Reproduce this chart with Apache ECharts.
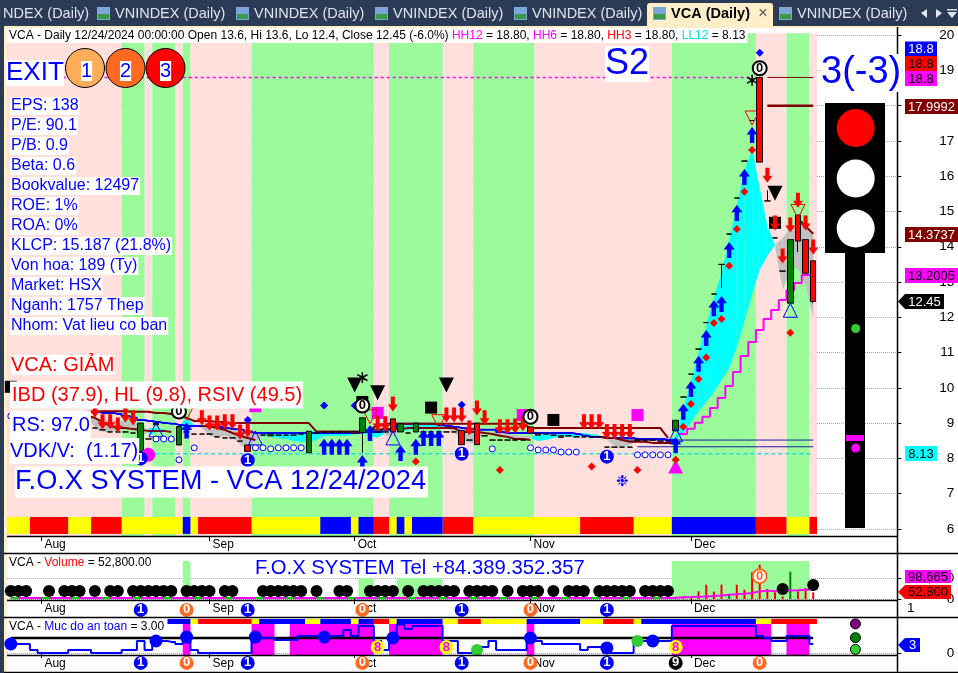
<!DOCTYPE html>
<html>
<head>
<meta charset="utf-8">
<title>VCA Daily</title>
<script src="https://cdn.jsdelivr.net/npm/echarts@6/dist/echarts.min.js"></script>
<style>html,body{margin:0;padding:0;background:#fff}#c{width:958px;height:673px}</style>
</head>
<body>
<div id="c"></div>
<script>
// ---------- categories ----------
const datesJul = ['07-26','07-29','07-30','07-31'];
const datesAug = ['08-01','08-02','08-05','08-06','08-07','08-08','08-09','08-12','08-13','08-14','08-15','08-16','08-19','08-20','08-21','08-22','08-23','08-26','08-27','08-28','08-29','08-30'];
const datesSep = ['09-04','09-05','09-06','09-09','09-10','09-11','09-12','09-13','09-16','09-17','09-18','09-19','09-20','09-23','09-24','09-25','09-26','09-27','09-30'];
const datesOct = ['10-01','10-02','10-03','10-04','10-07','10-08','10-09','10-10','10-11','10-14','10-15','10-16','10-17','10-18','10-21','10-22','10-23','10-24','10-25','10-28','10-29','10-30','10-31'];
const datesNov = ['11-01','11-04','11-05','11-06','11-07','11-08','11-11','11-12','11-13','11-14','11-15','11-18','11-19','11-20','11-21','11-22','11-25','11-26','11-27','11-28','11-29'];
const datesDec = ['12-02','12-03','12-04','12-05','12-06','12-09','12-10','12-11','12-12','12-13','12-16','12-17','12-18','12-19','12-20','12-23','12-24'];
const blankSlots = ['a','b','c','d','e','f','g','h','i','j','k'];
const monthStartDays = ['08-01','09-04','10-01','11-01','12-02'];
const monthNames = {'08':'Aug','09':'Sep','10':'Oct','11':'Nov','12':'Dec'};
const priceTicks = [6,7,8,9,10,11,12,13,14,15,16,17,18,19,20];

// ---------- candles ----------
const opens = [9.97,8.95,8.95,8.95,8.95,8.95,8.95,8.95,8.95,8.95,8.72,8.86,8.81,8.75,8.75,8.75,8.72,8.2,8.55,9.0,8.55,8.52,8.38,8.75,8.69,8.69,8.69,8.61,8.58,8.58,8.49,8.38,8.32,8.66,8.64,8.66,8.66,8.66,8.69,8.16,8.72,8.75,8.75,8.75,8.75,8.76,8.73,8.75,8.75,8.75,9.12,8.75,8.72,8.75,8.75,8.75,8.75,8.75,8.75,8.79,8.52,9.0,8.64,8.52,8.52,8.52,8.52,8.52,8.89,8.70,8.69,8.66,8.64,8.64,8.61,8.61,8.61,8.61,8.32,8.32,8.32,8.32,8.52,8.52,8.52,8.49,8.49,8.78,9.74,10.39,11.1,11.85,12.66,13.5,14.36,15.38,16.43,17.58,18.8,15.3,14.25,13.31,12.4,14.9,14.2,13.6];
const closes = [9.97,8.95,8.95,8.95,8.95,8.95,8.95,8.95,8.95,8.95,9.15,8.86,8.81,8.75,8.75,8.75,8.72,9.0,8.55,8.95,8.55,8.52,8.9,8.75,8.69,8.69,8.69,8.61,8.58,8.58,8.49,8.2,8.32,8.66,8.69,8.66,8.66,8.66,8.69,8.77,8.72,8.75,8.75,8.75,8.75,8.72,9.15,8.75,8.75,8.75,8.75,8.98,8.72,9.0,8.75,8.75,8.75,8.75,8.75,8.39,8.52,8.39,8.64,8.52,8.52,8.52,8.52,8.52,8.72,8.66,8.69,8.66,8.60,8.64,8.61,8.61,8.61,8.61,8.32,8.32,8.32,8.32,8.52,8.52,8.52,8.49,8.49,9.08,9.74,10.39,11.1,11.85,12.66,13.5,14.36,15.38,16.43,17.58,16.4,15.3,14.25,13.31,14.2,14.16,13.25,12.45];
const lowWicks = {46:8.16, 93:12.83, 103:13.85, 105:12.4};
const highWicks = {99:15.6};

// ---------- indicator lines (null where not drawn) ----------
const fastLine = [null,null,null,null,null,null,null,null,null,null,9.23,8.86,8.75,8.75,8.78,8.81,8.83,8.58,8.86,8.86,8.81,8.81,8.86,9.15,8.95,8.86,8.64,8.58,8.64,8.58,8.41,8.21,8.47,8.69,8.72,8.72,8.72,8.72,8.75,8.78,8.78,8.75,8.75,8.75,8.75,8.75,8.78,8.86,8.86,8.64,8.64,8.86,8.95,8.98,8.98,8.98,8.98,8.95,8.75,8.52,8.44,8.44,8.78,8.78,8.66,8.58,8.55,8.52,8.52,8.72,8.75,8.75,8.75,8.75,8.72,8.72,8.69,8.66,8.52,8.35,8.32,8.38,8.49,8.52,8.52,8.52,8.55,8.61,9.43,10.17,11.02,11.75,12.55,13.28,14.19,15.18,16.17,16.74,15.69,14.59,14.05,12.77,13.34,13.40,12.91,11.98];
const slowLine = [null,null,null,null,null,null,null,null,null,null,9.20,9.15,9.09,9.09,9.06,9.06,9.0,8.98,8.64,8.75,8.78,8.81,8.92,8.75,8.92,8.92,8.86,8.86,8.83,8.81,8.78,8.75,8.72,8.66,8.61,8.58,8.55,8.49,8.47,8.47,8.52,8.64,8.64,8.64,8.64,8.69,8.72,8.64,8.58,8.81,8.81,8.75,8.81,8.81,8.83,8.83,8.83,8.86,8.86,8.86,8.89,8.89,8.81,8.75,8.75,8.69,8.66,8.64,8.64,8.49,8.52,8.58,8.61,8.61,8.61,8.64,8.64,8.64,8.61,8.61,8.58,8.58,8.55,8.52,8.52,8.52,8.52,8.52,8.72,9.03,9.34,9.60,9.88,10.22,10.56,11.16,11.89,12.66,13.34,13.74,14.05,14.25,14.53,14.62,14.53,14.37];
const blueLine = [null,null,null,null,null,null,null,null,null,null,9.32,9.32,9.29,9.29,9.26,9.20,9.15,9.09,9.06,9.03,9.0,8.98,8.95,8.92,8.92,8.92,8.89,8.89,8.86,8.83,8.81,8.75,8.72,8.72,8.72,8.72,8.72,8.72,8.72,8.72,8.72,8.72,8.72,8.72,8.72,8.72,8.75,8.75,8.75,8.81,8.86,8.98,8.98,8.98,8.98,8.98,8.95,8.92,8.89,8.86,8.83,8.81,8.81,8.81,8.75,8.72,8.72,8.72,8.72,8.72,8.72,8.72,8.72,8.72,8.69,8.64,8.61,8.61,8.58,8.58,8.58,8.58,8.55,8.55,8.55,8.55,8.52,8.52];
const maroonUpper = [null,null,null,null,null,null,null,null,null,null,9.32,9.32,9.34,9.34,9.34,9.34,9.32,9.32,9.32,9.29,9.29,9.26,9.20,9.15,9.06,9.06,9.06,9.03,9.03,9.0,9.0,9.0,9.0,9.0,9.0,9.0,9.0,9.0,9.0,9.0,8.76,8.76,8.76,8.76,8.76,8.76,8.76,8.81,8.95,8.98,8.98,8.98,8.98,8.98,8.98,8.98,8.98,8.98,8.98,8.98,8.98,8.98,8.98,8.98,8.98,8.98,8.98,8.98,8.86,8.86,8.86,8.86,8.86,8.86,8.86,8.86,8.86,8.86,8.86,8.86,8.86,8.86,8.86,8.86,8.86,8.86,8.58];
const maroonLower = [null,null,null,null,null,null,null,null,null,null,9.20,9.15,9.03,8.92,8.86,8.86,8.83,8.81,8.78,8.78,8.78,8.75,null,null,null,8.92,8.92,8.86,8.81,8.72,8.64,8.58,8.52,null,null,null,null,null,null,null,null,null,null,null,null,null,null,8.81,8.81,8.83,8.83,8.83,8.86,8.86,8.86,8.86,8.86,8.86,8.86,8.75,8.75,8.75,8.72,8.69,8.64,8.61,8.55,8.55,8.52,null,null,null,null,null,null,null,null,8.61,8.58,8.58,8.52,8.47,8.47,8.47,8.44,8.44,8.44,8.44,null,null,null,null,null,null,null,null,null,null,null,null,null,null,null,14.8,14.58,14.37];
const maroonHigh12 = [18.8,18.8,18.8,18.8,18.8,18.8,18.8];
const maroonHigh6 = [17.9992,17.9992,17.9992,17.9992,17.9992,17.9992,17.9992];
const magentaStair = [8.69,8.84,9.01,9.18,9.43,9.71,10.05,10.45,10.90,11.30,11.64,11.95,12.21,12.49,12.77,12.97,13.2,13.2];
const navyLevelA = 8.52, navyLevelB = 8.33, ll12 = 8.13, hh12 = 18.8;

// ---------- signals: [bar, price] ----------
const blueUpArrows = [[23,8.79],[41,8.33],[42,8.33],[43,8.33],[44,8.33],[46,7.87],[47,8.72],[51,8.15],[53,8.33],[54,8.58],[55,8.58],[56,8.58],[87,8.38],[88,9.32],[89,9.97],[90,10.68],[91,11.41],[92,12.26],[93,12.38],[94,13.91],[95,14.96],[96,15.98],[97,17.17]];
const redDownArrows = [[11,9.37],[12,9.04],[13,9.04],[14,8.95],[15,9.23],[16,9.15],[25,9.15],[26,9.0],[27,9.0],[28,9.04],[29,9.04],[30,8.75],[31,8.81],[48,9.0],[49,8.98],[50,9.54],[57,9.23],[58,9.23],[59,9.23],[60,8.86],[61,9.43],[62,9.15],[64,8.9],[65,8.9],[66,8.92],[67,8.98],[75,9.04],[76,9.04],[77,9.04],[78,8.76],[79,8.76],[80,8.76],[81,8.76],[99,16.03],[100,14.67],[101,13.74],[102,14.62],[103,15.32],[104,14.67],[105,13.99]];
const redDiamonds = [[53,7.91],[64,7.67],[76,7.77],[82,7.67],[87,7.96],[88,8.9],[89,9.54],[90,10.25],[91,10.86],[92,11.84],[93,11.95],[94,13.46],[95,14.5],[96,15.56],[97,16.74],[102,11.56]];
const blueDiamonds = [[31,9.09],[41,9.5],[45,9.5],[59,9.52],[98,19.5]];
const openCircles = [[0,9.2],[19,8.55],[20,8.55],[21,8.55],[22,7.96],[24,8.3],[32,8.3],[33,8.3],[34,8.27],[35,8.3],[36,8.3],[37,8.3],[38,8.3],[63,8.27],[68,8.3],[69,8.24],[70,8.24],[71,8.24],[72,8.18],[73,8.18],[74,8.18],[82,8.1],[83,8.1],[84,8.1],[85,8.1],[86,8.1]];
const blackDownTriangles = [[22,9.32],[45,10.08],[48,9.86],[57,10.08],[100,15.52]];
const blackSquares = [[0,10.03],[22,9.33],[46,9.6],[55,9.44],[71,9.09],[100,14.68]];
const magentaSquares = [[48,9.29],[67,9.23],[82,9.23]];
const magentaBars = [[32,9.38]];
const asterisks = [[46,10.29],[97,18.72]];
const blueUpOutlines = [[19,8.81],[32,8.58],[50,8.58],[87,8.67],[102,12.2]];
const redDownOutlines = [[23,9.29],[47,9.18],[56,9.04],[97,17.65],[103,15.0]];
const magentaUpTriangles = [[87,7.77]];
const magentaDots = [[18,8.1]];
const snowflakes = [[80,7.33]];
const blackRingZero = [[22,9.33],[46,9.5],[68,9.18],[98,19.06]];
const mainBlueOnes = [[17,8.0],[31,7.95],[59,8.13],[78,8.05]];

// ---------- colour strips and shading: [from bar, to bar] ----------
const greenRuns = [[15,18],[19,22],[23,24],[32,48],[50,57],[61,69],[87,98],[102,105]];
const pinkRuns = [[0,15],[18,19],[22,23],[24,32],[48,50],[57,61],[69,87],[98,102],[105,106]];
const stripRed = [[3,8],[11,15],[25,32],[48,50],[57,61],[75,82],[98,102],[105,106]];
const stripYellow = [[0,3],[8,11],[15,23],[24,25],[32,41],[45,46],[50,51],[52,53],[61,75],[82,87],[102,105]];
const stripBlue = [[23,24],[41,45],[46,48],[51,52],[53,57],[87,98]];
const safeRed = [[25,32],[48,50],[59,62],[78,82],[100,106]];
const safeYellow = [[24,25],[32,33],[39,41],[45,46],[50,51],[57,59],[62,68],[75,78],[82,83],[98,100]];
const safeBlue = [[21,24],[33,39],[41,45],[46,48],[51,57],[68,75],[83,98]];
const safeMagenta = [[23,24],[32,35],[37,48],[50,57],[68,69],[87,100],[102,105]];

// ---------- volume ----------
const volumes = [5000,6000,4000,7000,5000,9000,6000,5000,8000,6000,7000,9000,5000,6000,8000,7000,6000,9000,12000,7000,6000,5000,11000,16000,9000,7000,6000,8000,5000,7000,6000,9000,11000,8000,5000,9000,7000,6000,8000,11000,9000,7000,6000,8000,5000,9000,16000,12000,8000,11000,9000,7000,6000,8000,6000,9000,7000,5000,6000,8000,7000,5000,9000,6000,5000,7000,6000,8000,9000,5000,6000,7000,5000,6000,8000,6000,5000,7000,9000,6000,5000,7000,6000,5000,8000,7000,6000,11000,13000,15000,61000,113000,58000,113000,34000,113000,73000,210000,270000,79000,53000,21000,215000,61000,87000,52800];
const volumeUpBars = [10,17,22,39,46,51,53,87,94,102];
const volumeMA = [8000,8000,8000,8000,8000,8000,8000,8000,8000,8000,8000,8000,8000,8000,8000,8000,8000,8000,8000,8000,8000,8000,8000,8000,8000,8000,8000,8000,8000,8000,8000,8000,8000,8000,8000,8000,8000,8000,8000,8000,8000,8000,8000,8000,8000,8000,8000,8000,8000,8000,8000,8000,8000,8000,8000,8000,8000,8000,8000,8000,8000,8000,8000,8000,8000,8000,8000,8000,8000,8000,8000,8000,8000,8000,8000,8000,8000,8000,8000,8000,8000,8000,8000,8000,8000,8000,8000,9000,13000,15000,18000,20000,24000,28000,34000,38000,42000,47000,60000,66000,62000,63000,66000,68000,72000,74000];
const volumeGreenShade = [[23,24,300000],[46,48,165000],[51,57,165000],[87,105,300000]];
const volumeDotBars = [0,1,2,5,7,8,9,11,13,14,16,17,18,19,20,21,23,24,25,26,28,29,33,34,35,36,37,38,40,43,44,47,48,49,50,52,54,55,56,57,58,60,61,62,63,65,67,68,69,71,73,74,75,77,78,79,80,81,83,84,85,86];
const volumeDotLevel = 63000;
const volumeLateDots = [[101,79000],[105,110000]];
const volumeTicks = [0,165000];
const volumeOrangeZero = [[98,180000]];
const stripBlueOneBars = [17,31,59,78];
const stripOrangeZeroVol = [23,46,68];
const stripOrangeZeroSafe = [23,46,68,98];
const stripBlackNineSafe = [87];

// ---------- "Muc do an toan" ----------
const safetySteps = [3,3,3,1,0,0,0,0,1,1,1,0,0,0,0,1,1,4,1,4,4,3.7,3,4,1,0,0,0,0,0,0,0,5,5,5,4.3,4.3,4.3,5.7,5.7,5.7,5.7,5.7,5.7,7.7,5.7,9,9,4,1,5,9.5,8,9,9,9,9,4,4,0,0,0,2,4,1,1,1,1,5,4,3,3,3,3,3,1,2,2,0,0,0,0,4,4,4,4,4,9,9,9,9,9,9,9,9,9,9,9,5.7,5,4,4,5.7,5.7,5.7,3];
const safetyRefLevel = 5;
const safetyBlueDots = [[0,3],[19,4],[23,5.3],[32,5.3],[41,5.3],[50,5],[68,5],[78,1.7],[84,4]];
const safetyGreenDots = [[61,1],[82,4]];
const safetyYellowEights = [[48,2],[57,2],[87,2]];
const legendPurple = [[110,9.7]], legendDarkGreen = [[110,5.1]], legendLime = [[110,1.2]];

// ---------- scale helpers ----------
const categories = [].concat(datesJul,datesAug,datesSep,datesOct,datesNov,datesDec,blankSlots);
const tickIdx = monthStartDays.map(d => categories.indexOf(d));
const FONT = '"Liberation Sans", Arial, sans-serif';
const GREEN = '#9BFB9B', PINK = '#FFE0DD';

const xAx = (gridIndex) => ({
  type:'category', gridIndex, data:categories, boundaryGap:true,
  axisLine:{show:false},
  axisTick:{show:true, alignWithLabel:true, length:5, inside:false, interval:(i)=>tickIdx.includes(i), lineStyle:{color:'#000'}},
  axisLabel:{show:true, align:'left', margin:3, padding:[0,0,0,3], fontSize:12, fontFamily:FONT, color:'#000', interval:(i)=>tickIdx.includes(i),
    formatter:(v)=>monthNames[v.slice(0,2)]||''},
  splitLine:{show:false}
});
const yAx = (gridIndex,min,max,custom,extra) => Object.assign({
  type:'value', gridIndex, position:'right', offset:-3.8, min, max, scale:true,
  axisLine:{show:false},
  axisTick:{show:true, length:4, customValues:custom, lineStyle:{color:'#000'}},
  axisLabel:{show:true, customValues:custom, align:'right', margin:57, fontSize:13.5, fontFamily:FONT, color:'#000'},
  splitLine:{show:true, lineStyle:{color:'#aaa', type:'dotted', width:1}}
},extra||{});

// run-length band: [from, to, lo, hi]
function bands(runs,lo,hi,color,xi,yi,z,name){
  return {type:'custom', name, xAxisIndex:xi, yAxisIndex:yi, z:z||1, silent:true, clip:true,
    data:runs.map(r=>[r[0],r[1],lo,r.length>2?r[2]:hi]),
    encode:{x:0,y:2},
    renderItem:(p,api)=>{
      const bw=api.size([1,0])[0];
      const a=api.coord([api.value(0),api.value(2)]), b=api.coord([api.value(1),api.value(3)]);
      return {type:'rect', shape:{x:a[0]-bw/2,y:b[1],width:b[0]-a[0],height:a[1]-b[1]}, style:{fill:color}};
    }};
}
function marks(name,data,o){
  return Object.assign({type:'scatter',name,data,xAxisIndex:0,yAxisIndex:0,symbolSize:8,z:6,silent:true,clip:false},o||{});
}
function numbered(name,data,fill,txt,digit,xi,yi,o){
  return Object.assign({type:'scatter',name,data,xAxisIndex:xi,yAxisIndex:yi,symbol:'circle',symbolSize:14,z:8,silent:true,clip:false,
    itemStyle:{color:fill},
    label:{show:true,position:'inside',formatter:digit,color:txt,fontFamily:FONT,fontWeight:'bold',fontSize:13}},o||{});
}
const ARROW_UP='path://M5,0 L10,7 L7,7 L7,15 L3,15 L3,7 L0,7 Z';
const ARROW_DOWN='path://M3,0 L7,0 L7,8 L10,8 L5,15 L0,8 L3,8 Z';
const ASTERISK='path://M4.4,0 H5.6 V3.6 L8.8,1.8 L9.4,2.8 L6.2,5 L9.4,7.2 L8.8,8.2 L5.6,6.4 V10 H4.4 V6.4 L1.2,8.2 L0.6,7.2 L3.8,5 L0.6,2.8 L1.2,1.8 L4.4,3.6 Z';

const series = [
  bands(pinkRuns,5,20.05,PINK,0,0,1,'pink'),
  bands(greenRuns,5,20.05,GREEN,0,0,1,'green'),
  {type:'custom',name:'cloud',xAxisIndex:0,yAxisIndex:0,z:2,silent:true,
    data:fastLine.map((f,i)=>[i,f,slowLine[i],fastLine[i+1],slowLine[i+1]]).filter(d=>d[1]!=null&&d[3]!=null),
    encode:{x:0,y:1},
    renderItem:(p,api)=>{
      const i=api.value(0),f0=api.value(1),s0=api.value(2),f1=api.value(3),s1=api.value(4);
      const c=(x,y)=>api.coord([x,y]);
      const d0=f0-s0,d1=f1-s1, cyan='#00FFFF', grey='#C0C0C0';
      if(d0*d1<0){
        const t=d0/(d0-d1), xm=i+t, ym=f0+(f1-f0)*t;
        return {type:'group',children:[
          {type:'polygon',shape:{points:[c(i,f0),c(xm,ym),c(i,s0)]},style:{fill:d0>0?cyan:grey}},
          {type:'polygon',shape:{points:[c(xm,ym),c(i+1,f1),c(i+1,s1)]},style:{fill:d1>0?cyan:grey}}]};
      }
      return {type:'polygon',shape:{points:[c(i,f0),c(i+1,f1),c(i+1,s1),c(i,s0)]},style:{fill:(d0+d1)>0?cyan:grey}};
    }},
  {type:'line',name:'HH12',xAxisIndex:0,yAxisIndex:0,data:categories.slice(0,106).map((c,i)=>(i>=6&&i<=97)?hh12:null),symbol:'none',z:3,silent:true,
    lineStyle:{color:'#FF00FF',width:1.5,type:[3,3]}},
  {type:'line',name:'LL12',xAxisIndex:0,yAxisIndex:0,data:categories.slice(0,106).map((c,i)=>i>=18?ll12:null),symbol:'none',z:3,silent:true,
    lineStyle:{color:'#22DDDD',width:1.5,type:[4,3]}},
  {type:'line',name:'navyA',xAxisIndex:0,yAxisIndex:0,data:categories.slice(0,106).map((c,i)=>i>=80?navyLevelA:null),symbol:'none',z:3,silent:true,lineStyle:{color:'#1a1a9c',width:1}},
  {type:'line',name:'navyB',xAxisIndex:0,yAxisIndex:0,data:categories.slice(0,106).map((c,i)=>i>=82?navyLevelB:null),symbol:'none',z:3,silent:true,lineStyle:{color:'#1a1a9c',width:1}},
  {type:'line',name:'blue',xAxisIndex:0,yAxisIndex:0,data:blueLine,symbol:'none',z:3,silent:true,step:'middle',lineStyle:{color:'#0000FF',width:2}},
  {type:'line',name:'maroonU',xAxisIndex:0,yAxisIndex:0,data:maroonUpper,symbol:'none',z:3,silent:true,lineStyle:{color:'#800000',width:2}},
  {type:'line',name:'maroonL',xAxisIndex:0,yAxisIndex:0,data:maroonLower,symbol:'none',z:3,silent:true,lineStyle:{color:'#800000',width:2}},
  {type:'line',name:'maroonH12',xAxisIndex:0,yAxisIndex:0,data:new Array(99).fill(null).concat(maroonHigh12),symbol:'none',z:3,silent:true,lineStyle:{color:'#800000',width:1}},
  {type:'line',name:'maroonH6',xAxisIndex:0,yAxisIndex:0,data:new Array(99).fill(null).concat(maroonHigh6),symbol:'none',z:3,silent:true,lineStyle:{color:'#800000',width:2.5}},
  {type:'line',name:'stair',xAxisIndex:0,yAxisIndex:0,data:new Array(88).fill(null).concat(magentaStair),symbol:'none',z:3,silent:true,step:'middle',lineStyle:{color:'#FF00FF',width:2}},
  {type:'candlestick',name:'VCA',xAxisIndex:0,yAxisIndex:0,barWidth:6,z:5,silent:true,
    data:opens.map((o,i)=>{
      const c=closes[i];
      const lo=lowWicks[i]!==undefined?lowWicks[i]:Math.min(o,c);
      const hi=highWicks[i]!==undefined?highWicks[i]:Math.max(o,c);
      return [o,c,lo,hi];
    }),
    itemStyle:{color:'#008000',color0:'#FF0000',borderColor:'#000',borderColor0:'#000',borderWidth:1}},
  bands(stripYellow,5.86,6.34,'#FFFF00',0,0,4,'strip y'),
  bands(stripRed,5.86,6.34,'#FF0000',0,0,4,'strip r'),
  bands(stripBlue,5.86,6.34,'#0000FF',0,0,4,'strip b'),
  marks('magentaUp',magentaUpTriangles,{symbol:'triangle',symbolSize:[15,14],itemStyle:{color:'#FF00FF'}}),
  marks('magentaDots',magentaDots,{symbol:'circle',symbolSize:14,itemStyle:{color:'#FF00FF'}}),
  marks('magentaSq',magentaSquares,{symbol:'rect',symbolSize:12,itemStyle:{color:'#FF00FF'}}),
  marks('magentaBar',magentaBars,{symbol:'rect',symbolSize:[12,5],itemStyle:{color:'#FF00FF'}}),
  marks('blackSq',blackSquares,{symbol:'rect',symbolSize:12,itemStyle:{color:'#000'}}),
  marks('blackDown',blackDownTriangles,{symbol:'triangle',symbolRotate:180,symbolSize:[15,15],itemStyle:{color:'#000'}}),
  marks('asterisk',asterisks,{symbol:ASTERISK,symbolSize:11,itemStyle:{color:'#000'}}),
  marks('blueOutline',blueUpOutlines,{symbol:'triangle',symbolSize:[14,14],itemStyle:{color:'rgba(0,0,0,0)',borderColor:'#0000FF',borderWidth:1}}),
  marks('redOutline',redDownOutlines,{symbol:'triangle',symbolRotate:180,symbolSize:[14,14],itemStyle:{color:'rgba(0,0,0,0)',borderColor:'#FF0000',borderWidth:1}}),
  marks('upArrows',blueUpArrows,{symbol:ARROW_UP,symbolSize:[11,16],itemStyle:{color:'#0000FF'}}),
  marks('downArrows',redDownArrows,{symbol:ARROW_DOWN,symbolSize:[10,15],itemStyle:{color:'#FF0000'}}),
  marks('redDiamonds',redDiamonds,{symbol:'diamond',symbolSize:8,itemStyle:{color:'#FF0000'}}),
  marks('blueDiamonds',blueDiamonds,{symbol:'diamond',symbolSize:8,itemStyle:{color:'#0000FF'}}),
  marks('openCircles',openCircles,{symbol:'circle',symbolSize:6,itemStyle:{color:'#fff',borderColor:'#0000FF',borderWidth:1}}),
  marks('snow',snowflakes,{symbol:'circle',symbolSize:1,itemStyle:{color:'rgba(0,0,0,0)'},label:{show:true,position:'inside',formatter:'\u2749',color:'#0000FF',fontSize:15,fontFamily:'"DejaVu Sans"'}}),
  numbered('ring0',blackRingZero,'#fff','#000','0',0,0,{itemStyle:{color:'#fff',borderColor:'#000',borderWidth:2}}),
  numbered('one',mainBlueOnes,'#0000FF','#fff','1',0,0),

  bands(volumeGreenShade,0,0,GREEN,1,1,1,'volShadeBands'),
  {type:'bar',name:'Volume',xAxisIndex:1,yAxisIndex:1,z:3,silent:true,barWidth:2,
    data:volumes.map((v,i)=>({value:v,itemStyle:{color:volumeUpBars.includes(i)?'#008000':'#FF0000'}}))},
  {type:'line',name:'VolMA',xAxisIndex:1,yAxisIndex:1,data:volumeMA,symbol:'none',z:4,silent:true,lineStyle:{color:'#FF00FF',width:2}},
  {type:'line',name:'volBase',xAxisIndex:1,yAxisIndex:1,data:volumes.map((v,i)=>i<87?(i%4<2?8000:null):null),symbol:'none',z:4,silent:true,lineStyle:{color:'#00D000',width:2}},
  {type:'scatter',name:'volDots',xAxisIndex:1,yAxisIndex:1,z:5,silent:true,symbol:'circle',symbolSize:12,itemStyle:{color:'#000'},
    data:volumeDotBars.map(i=>[i,volumeDotLevel]).concat(volumeLateDots)},
  numbered('volZero',volumeOrangeZero,'#fff','#FF6A20','0',1,1,{itemStyle:{color:'#fff',borderColor:'#FF6A20',borderWidth:2}}),
  numbered('vol1',stripBlueOneBars.map(i=>[i,-86000]),'#0000FF','#fff','1',1,1),
  numbered('vol0',stripOrangeZeroVol.map(i=>[i,-86000]),'#FF6A20','#fff','0',1,1),

  bands(safeMagenta,-0.67,9.67,'#FF00FF',2,2,1,'safeM'),
  bands(safeYellow,9.67,11.33,'#FFFF00',2,2,2,'safeY'),
  bands(safeRed,9.67,11.33,'#FF0000',2,2,2,'safeR'),
  bands(safeBlue,9.67,11.33,'#0000FF',2,2,2,'safeB'),
  {type:'line',name:'ref',xAxisIndex:2,yAxisIndex:2,data:categories.slice(0,106).map(()=>safetyRefLevel),symbol:'none',z:3,silent:true,lineStyle:{color:'#000',width:2.5}},
  {type:'line',name:'Muc do an toan',xAxisIndex:2,yAxisIndex:2,data:safetySteps,symbol:'none',step:'middle',z:4,silent:true,lineStyle:{color:'#0000FF',width:2}},
  {type:'scatter',name:'safeDots',xAxisIndex:2,yAxisIndex:2,data:safetyBlueDots,symbol:'circle',symbolSize:13,z:5,silent:true,itemStyle:{color:'#0000FF'}},
  {type:'scatter',name:'safeGreen',xAxisIndex:2,yAxisIndex:2,data:safetyGreenDots,symbol:'circle',symbolSize:12,z:5,silent:true,itemStyle:{color:'#32CD32'}},
  numbered('safe8',safetyYellowEights,'#FFFF00','#FF00FF','8',2,2),
  {type:'scatter',name:'legendPurple',xAxisIndex:2,yAxisIndex:2,data:legendPurple,symbol:'circle',symbolSize:10,symbolOffset:[4,0],z:5,silent:true,itemStyle:{color:'#800080',borderColor:'#000',borderWidth:1}},
  {type:'scatter',name:'legendDark',xAxisIndex:2,yAxisIndex:2,data:legendDarkGreen,symbol:'circle',symbolSize:10,symbolOffset:[4,0],z:5,silent:true,itemStyle:{color:'#008000',borderColor:'#000',borderWidth:1}},
  {type:'scatter',name:'legendLime',xAxisIndex:2,yAxisIndex:2,data:legendLime,symbol:'circle',symbolSize:10,symbolOffset:[4,0],z:5,silent:true,itemStyle:{color:'#32CD32',borderColor:'#000',borderWidth:1}},
  numbered('safe1',stripBlueOneBars.map(i=>[i,-3.3]),'#0000FF','#fff','1',2,2),
  numbered('safe0',stripOrangeZeroSafe.map(i=>[i,-3.3]),'#FF6A20','#fff','0',2,2),
  numbered('safe9',stripBlackNineSafe.map(i=>[i,-3.3]),'#000','#fff','9',2,2)
];
series.forEach(s=>{ if(s.type==='scatter'){ s.itemStyle=Object.assign({opacity:1},s.itemStyle||{}); s.clip=false; } });

// ---------- overlays ----------
const lbl=(text,x,y,size,fill,o)=>({type:'text',z:50,silent:true,style:Object.assign({text,x,y,font:size+'px '+FONT,fill,backgroundColor:'#fff',verticalAlign:'middle'},o||{})});
const line=(x1,y1,x2,y2,w)=>({type:'line',z:40,silent:true,shape:{x1,y1,x2,y2},style:{stroke:'#000',lineWidth:w||1}});
const rect=(x,y,w,h,fill,z)=>({type:'rect',z:z||60,silent:true,shape:{x,y,width:w,height:h},style:{fill}});
const dot=(cx,cy,r,fill,stroke)=>({type:'circle',z:61,silent:true,shape:{cx,cy,r},style:{fill,stroke:stroke||null,lineWidth:1}});
function tag(x,y,w,h,text,bg,fg,arrow){
  const els=[rect(x,y,w,h,bg,70)];
  if(arrow) els.push({type:'polygon',z:70,silent:true,shape:{points:[[x,y],[x-7,y+h/2],[x,y+h]]},style:{fill:bg}});
  els.push({type:'text',z:71,silent:true,style:{text,x:x+w/2,y:y+h/2+0.5,font:'13px '+FONT,fill:fg,align:'center',verticalAlign:'middle'}});
  return els;
}
function tab(x,name){
  return [rect(x,7,13,13,'#7da6d8',5),rect(x+1,14,11,5,'#3a9a45',6),
    {type:'text',z:6,silent:true,style:{text:name,x:x+18,y:14,font:'14.5px '+FONT,fill:'#DDE4EE',verticalAlign:'middle'}}];
}
const infoLines=['EPS: 138','P/E: 90.1','P/B: 0.9','Beta: 0.6','Bookvalue: 12497','ROE: 1%','ROA: 0%','KLCP: 15.187 (21.8%)','Von hoa: 189 (Ty)','Market: HSX','Nganh: 1757 Thep','Nhom: Vat lieu co ban'];
const graphic=[
  rect(0,0,958,26,'#2B3A55',4), rect(0,0,4,673,'#2B3A55',4), rect(4,26,954,2,'#FFEFC8',4), rect(4,26,3,647,'#FFEFC8',4),
  {type:'text',z:6,silent:true,style:{text:'NDEX (Daily)',x:3,y:14,font:'14.5px '+FONT,fill:'#DDE4EE',verticalAlign:'middle'}},
  ...tab(97,'VNINDEX (Daily)'),...tab(236,'VNINDEX (Daily)'),...tab(375,'VNINDEX (Daily)'),...tab(514,'VNINDEX (Daily)'),
  {type:'rect',z:5,silent:true,shape:{x:647,y:3,width:126,height:23,r:[3,3,0,0]},style:{fill:'#FFEFC8'}},
  rect(653,7,13,13,'#7da6d8',6),rect(654,14,11,5,'#3a9a45',7),
  {type:'text',z:7,silent:true,style:{text:'VCA (Daily)',x:671,y:14,font:'bold 14.5px '+FONT,fill:'#000',verticalAlign:'middle'}},
  {type:'text',z:7,silent:true,style:{text:'\u00D7',x:763,y:14,font:'16px '+FONT,fill:'#555',align:'center',verticalAlign:'middle'}},
  ...tab(779,'VNINDEX (Daily)'),
  {type:'polygon',z:7,silent:true,shape:{points:[[927,9],[921,13],[927,18]]},style:{fill:'#DDE4EE'}},
  {type:'polygon',z:7,silent:true,shape:{points:[[936,9],[942,13],[936,18]]},style:{fill:'#DDE4EE'}},
  {type:'polygon',z:7,silent:true,shape:{points:[[947,12],[957,12],[952,18]]},style:{fill:'#DDE4EE'}},
  rect(947,9,10,1.5,'#DDE4EE',7),
  line(897.5,27,897.5,673,1.5), line(7,536.5,897,536.5,1.5), line(4,553.5,958,553.5,1.5),
  line(7,600.5,897,600.5,1.5), line(4,617.5,958,617.5,1.5), line(7,655.5,897,655.5,1.5), line(4,672.5,958,672.5,1.5),
  {type:'text',z:50,silent:true,style:{text:'{k|VCA - Daily 12/24/2024 00:00:00 Open 13.6, Hi 13.6, Lo 12.4, Close 12.45 (-6.0%)} {m|HH12}{k| = 18.80,} {m|HH6}{k| = 18.80,} {r|HH3}{k| = 18.80,} {c|LL12}{k| = 8.13}',
    x:7,y:36,verticalAlign:'middle',backgroundColor:'#fff',padding:[1,2,1,2],
    rich:{k:{font:'12px '+FONT,fill:'#000',color:'#000'},m:{font:'12px '+FONT,fill:'#FF00FF',color:'#FF00FF'},r:{font:'12px '+FONT,fill:'#FF0000',color:'#FF0000'},c:{font:'12px '+FONT,fill:'#00DDDD',color:'#00DDDD'}}}},
  lbl('EXIT',6,73,26,'#0000FF'),
  {type:'circle',z:50,silent:true,shape:{cx:85,cy:68,r:19.5},style:{fill:'#FFAD5B',stroke:'#000'}},
  {type:'circle',z:50,silent:true,shape:{cx:125.5,cy:68,r:19.5},style:{fill:'#FF6A20',stroke:'#000'}},
  {type:'circle',z:50,silent:true,shape:{cx:165.5,cy:68,r:19.5},style:{fill:'#FF0000',stroke:'#000'}},
  lbl('1',81,71,20,'#0000FF',{z:51}),lbl('2',120,71,20,'#0000FF'),lbl('3',160,71,20,'#0000FF'),
  ...infoLines.map((t,i)=>lbl(t,10,106+i*20,16,'#0000FF',{padding:[1,1,1,1]})),
  lbl('S2',605,64,36,'#0000FF'),
  lbl('3(-3)',821,73,38,'#0000FF'),
  lbl('VCA: GIẢM',11,365,20,'#FF0000'),
  lbl('IBD (37.9), HL (9.8), RSIV (49.5)',10,395,20,'#FF0000',{padding:[4,1,3,2]}),
  lbl('RS: 97.0',10,425,20,'#0000FF',{padding:[5,1,4,2]}),
  lbl('VDK/V:  (1.17)',10,451,20,'#0000FF',{padding:[3,1,3,0]}),
  lbl('F.O.X SYSTEM - VCA 12/24/2024',15,482,27.2,'#0000FF',{padding:[2,2,2,0]}),
  {type:'text',z:50,silent:true,style:{text:'{k|VCA - }{r|Volume}{k| = 52,800.00}',x:9,y:563,verticalAlign:'middle',rich:{k:{font:'12px '+FONT,fill:'#000',color:'#000'},r:{font:'12px '+FONT,fill:'#FF0000',color:'#FF0000'}}}},
  lbl('F.O.X SYSTEM Tel +84.389.352.357',255,568,20.3,'#0000FF',{backgroundColor:null}),
  {type:'text',z:50,silent:true,style:{text:'{k|VCA - }{b|Muc do an toan}{k| = 3.00}',x:9,y:627,verticalAlign:'middle',backgroundColor:'#fff',rich:{k:{font:'12px '+FONT,fill:'#000',color:'#000'},b:{font:'12px '+FONT,fill:'#0000FF',color:'#0000FF'}}}},
  lbl('1',907,608,13.5,'#000',{backgroundColor:null}),
  rect(825,103,60,150,'#000'), rect(845,253,20,275,'#000'),
  dot(855.7,128,19,'#FF0000'), dot(855.7,178.5,19,'#fff'), dot(855.7,228.5,19,'#fff'),
  dot(855.7,328.5,4.5,'#32CD32'), rect(846,435,18,6,'#FF00FF',62), dot(855.7,448,4.5,'#FF00FF'),
  ...tag(905,41.5,32,14.5,'18.8','#0000FF','#fff'),
  ...tag(905,56,32,15,'18.8','#FF0000','#000'),
  ...tag(905,71,32,15,'18.8','#FF00FF','#000'),
  ...tag(905,99,53,15,'17.9992','#800000','#fff'),
  ...tag(905,227,53,15,'14.3737','#800000','#fff'),
  ...tag(905,268,53,15,'13.2005','#FF00FF','#000'),
  ...tag(905,294,39,15,'12.45','#000','#fff',true),
  ...tag(905,446,32,15,'8.13','#00FFFF','#000'),
  ...tag(905,570,46,13,'98,665','#FF00FF','#000'),
  ...tag(905,585,46,14,'52,800','#FF0000','#000',true),
  ...tag(905,638,15,14,'3','#0000FF','#fff',true)
];

const option = {
  animation:false,
  backgroundColor:'#fff',
  textStyle:{fontFamily:FONT},
  grid:[
    {left:7,top:27,width:894.1,height:509},
    {left:7,top:553,width:894.1,height:47},
    {left:7,top:617,width:894.1,height:38}
  ],
  xAxis:[xAx(0),xAx(1),xAx(2)],
  yAxis:[
    yAx(0,5.8,20.23,priceTicks),
    yAx(1,-7880,362480,volumeTicks,{axisLabel:{show:true,customValues:volumeTicks,align:'right',margin:57,fontSize:13.5,fontFamily:FONT,color:'#000',formatter:(v)=>v===0?'0':'165,000'}}),
    yAx(2,-0.67,12,[0])
  ],
  series,
  graphic:{elements:graphic}
};
const chart = echarts.init(document.getElementById('c'),null,{renderer:'canvas'});
chart.setOption(option);
</script>
</body>
</html>
